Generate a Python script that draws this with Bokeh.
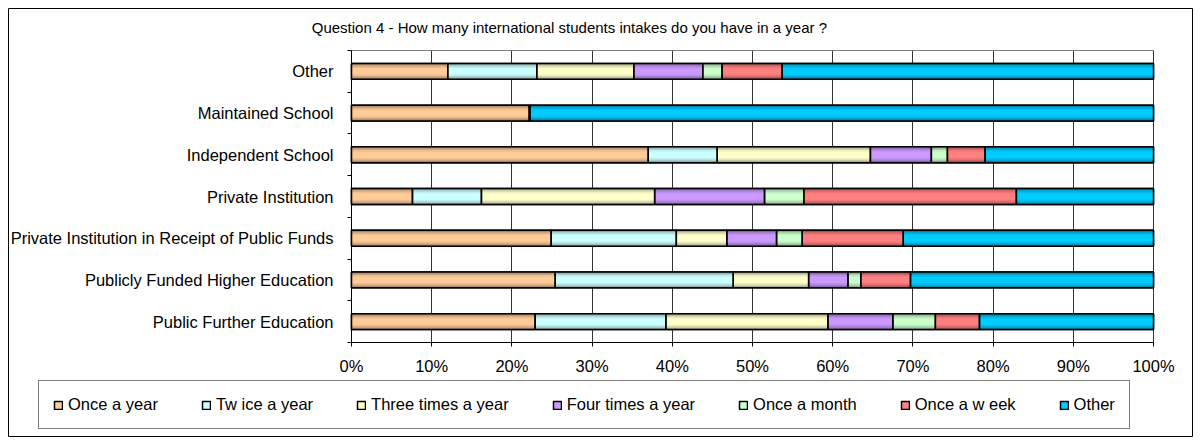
from bokeh.plotting import figure
from bokeh.models import (ColumnDataSource, Range1d, FixedTicker, PrintfTickFormatter,
                          Legend, LegendItem, Label)
from bokeh.embed import file_html
from bokeh.resources import INLINE

# Institution types, listed bottom to top
categories = [
    "Public Further Education",
    "Publicly Funded Higher Education",
    "Private Institution in Receipt of Public Funds",
    "Private Institution",
    "Independent School",
    "Maintained School",
    "Other",
]

series_names = [
    "Once a year",
    "Tw ice a year",
    "Three times a year",
    "Four times a year",
    "Once a month",
    "Once a w eek",
    "Other",
]

# Share of responses (%) per institution type, same order as categories
once_a_year = [22.9, 25.4, 24.9, 7.6, 37.0, 22.2, 12.0]
twice_a_year = [16.3, 22.2, 15.6, 8.6, 8.6, 0.0, 11.1]
three_times_a_year = [20.2, 9.4, 6.3, 21.6, 19.1, 0.0, 12.1]
four_times_a_year = [8.1, 4.9, 6.2, 13.7, 7.6, 0.0, 8.6]
once_a_month = [5.3, 1.6, 3.2, 4.9, 2.0, 0.0, 2.4]
once_a_week = [5.5, 6.2, 12.6, 26.5, 4.7, 0.0, 7.5]
other = [21.7, 30.3, 31.2, 17.1, 21.0, 77.8, 46.3]

x_ticks = [0, 10, 20, 30, 40, 50, 60, 70, 80, 90, 100]

title_text = "Question 4 - How  many international students intakes do you have in a year ?"

colors = ["#FFCC99", "#CCFFFF", "#FFFFCC", "#CC99FF", "#CCFFCC", "#FF8080", "#00CCFF"]
FONT = "Liberation Sans"
FS = "16.5px"

# Canvas geometry (pixels): the frame is the whole bordered chart area,
# the bar area sits inside it with axes pinned at x=0 / y=0.
W, H = 1200, 443
FRAME_L, FRAME_R, FRAME_T, FRAME_B = 8, 1192, 8, 436
AREA_L, AREA_R, AREA_T, AREA_B = 351, 1153, 50, 342
n_cat = len(categories)
px_x = (AREA_R - AREA_L) / 100.0
px_y = (AREA_B - AREA_T) / n_cat
x_start = -(AREA_L - FRAME_L) / px_x
x_end = 100 + (FRAME_R - AREA_R) / px_x
y_start = -(FRAME_B - AREA_B) / px_y
y_end = n_cat + (AREA_T - FRAME_T) / px_y


def shade(hex_color, f):
    r, g, b = (int(hex_color[i:i + 2], 16) for i in (1, 3, 5))
    return "#%02x%02x%02x" % (int(r * f), int(g * f), int(b * f))


all_series = [once_a_year, twice_a_year, three_times_a_year, four_times_a_year,
              once_a_month, once_a_week, other]
keys = ["s%d" % i for i in range(len(all_series))]
centers = [i + 0.5 for i in range(n_cat)]

data = {"y": centers, "cat": categories}
for k, vals in zip(keys, all_series):
    data[k] = vals
source = ColumnDataSource(data)

p = figure(
    width=W, height=H,
    x_range=Range1d(x_start, x_end), y_range=Range1d(y_start, y_end),
    output_backend="svg", toolbar_location=None, title=None,
    min_border_left=FRAME_L, min_border_right=W - FRAME_R,
    min_border_top=FRAME_T, min_border_bottom=H - FRAME_B,
    background_fill_color="white", border_fill_color="white",
    outline_line_color="black", outline_line_width=1,
)

BAR_H = 0.38

# Base bars (also used for the legend swatches)
base = p.hbar_stack(keys, y="y", height=BAR_H, source=source,
                    fill_color=colors, line_color="black", line_width=1.5)
# Cylinder-like shading: darker edges, lighter core
p.hbar_stack(keys, y="y", height=BAR_H, source=source,
             fill_color=[shade(c, 0.62) for c in colors], line_alpha=0)
p.hbar_stack(keys, y="y", height=BAR_H * 0.82, source=source,
             fill_color=[shade(c, 0.80) for c in colors], line_alpha=0)
p.hbar_stack(keys, y="y", height=BAR_H * 0.62, source=source,
             fill_color=[shade(c, 0.93) for c in colors], line_alpha=0)
p.hbar_stack(keys, y="y", height=BAR_H * 0.40, source=source,
             fill_color=colors, line_alpha=0)
# Outlines on top
p.hbar_stack(keys, y="y", height=BAR_H, source=source,
             fill_alpha=0, line_color="black", line_width=1.5)

# X axis, pinned at y = 0
p.xaxis.fixed_location = 0
p.xaxis.bounds = (0, 100)
p.xaxis.ticker = FixedTicker(ticks=x_ticks)
p.xaxis.formatter = PrintfTickFormatter(format="%d%%")
p.xaxis.axis_line_color = "black"
p.xaxis.major_tick_line_color = "black"
p.xaxis.major_tick_out = 4
p.xaxis.major_tick_in = 0
p.xaxis.minor_tick_line_color = None
p.xaxis.major_label_standoff = 10
p.xaxis.major_label_text_font = FONT
p.xaxis.major_label_text_font_size = FS
p.xaxis.major_label_text_color = "black"

# Y axis, pinned at x = 0: labels at band centres, tick marks at band boundaries
p.yaxis.fixed_location = 0
p.yaxis.bounds = (0, n_cat)
p.yaxis.ticker = FixedTicker(ticks=centers, minor_ticks=list(range(n_cat + 1)))
p.yaxis.major_label_overrides = dict(zip(centers, categories))
p.yaxis.axis_line_color = "black"
p.yaxis.major_tick_out = 0
p.yaxis.major_tick_in = 0
p.yaxis.minor_tick_out = 4
p.yaxis.minor_tick_in = 0
p.yaxis.minor_tick_line_color = "black"
p.yaxis.major_label_standoff = 14
p.yaxis.major_label_text_font = FONT
p.yaxis.major_label_text_font_size = FS
p.yaxis.major_label_text_color = "black"

# Vertical grid only across the bar area
p.xgrid.ticker = FixedTicker(ticks=x_ticks)
p.xgrid.bounds = (0, 100)
p.xgrid.cross_bounds = (0, n_cat)
p.xgrid.grid_line_color = "black"
p.xgrid.grid_line_alpha = 0.8
# Top edge of the bar area
p.ygrid.ticker = FixedTicker(ticks=[n_cat])
p.ygrid.cross_bounds = (0, 100)
p.ygrid.grid_line_color = "#808080"

# Chart title
p.add_layout(Label(x=571 - FRAME_L, y=FRAME_B - 27, x_units="screen", y_units="screen",
                   text=title_text, text_align="center", text_baseline="middle",
                   text_font=FONT, text_font_size="15px", text_color="black"))

# Legend
items = [LegendItem(label=name, renderers=[r]) for name, r in zip(series_names, base)]
legend = Legend(items=items, orientation="horizontal", location=(38 - FRAME_L, FRAME_B - 429),
                padding=14, spacing=43, glyph_width=10, glyph_height=10, margin=0,
                label_standoff=5, label_text_font=FONT, label_text_font_size=FS,
                label_text_color="black", border_line_color="black", border_line_width=1,
                background_fill_color="white", background_fill_alpha=1)
p.add_layout(legend, "center")

open("out.html", "w").write(file_html(p, INLINE))
